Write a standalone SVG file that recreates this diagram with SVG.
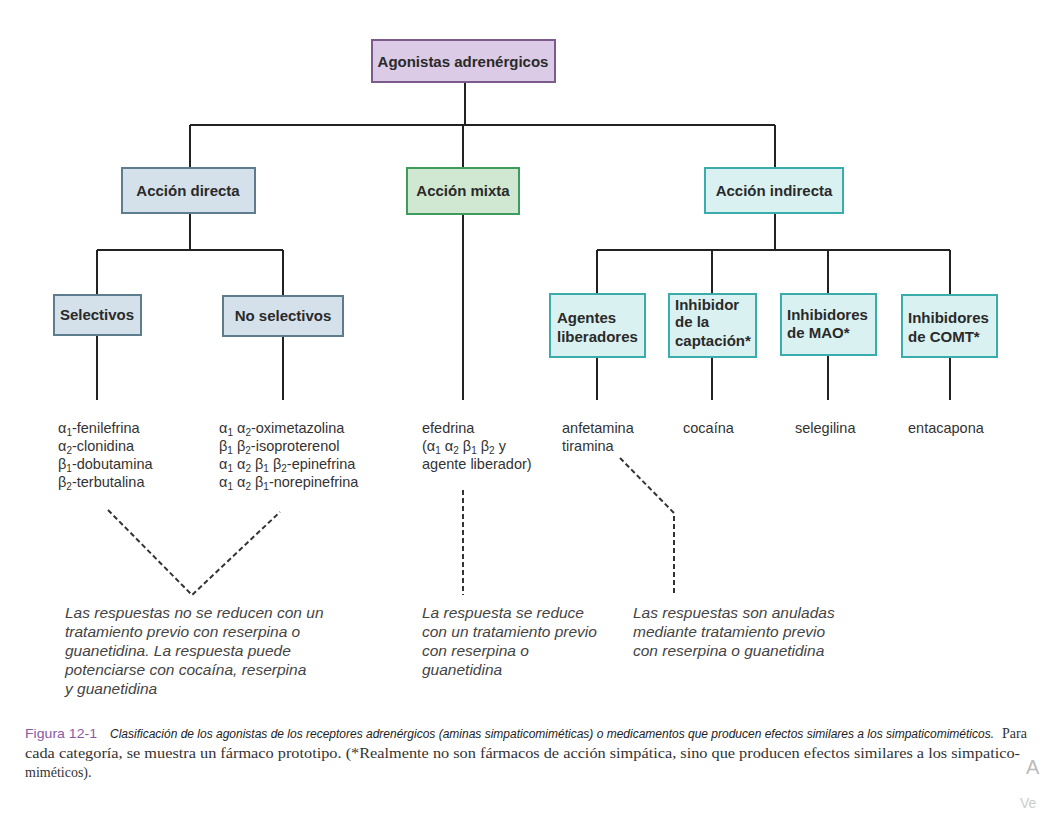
<svg xmlns="http://www.w3.org/2000/svg" width="1056" height="816" viewBox="0 0 1056 816">
<style>
.box{stroke-width:2}
.pur{fill:#dccbe6;stroke:#7b5b8c}
.blu{fill:#d4e1eb;stroke:#5d7d8e}
.grn{fill:#d0e8d2;stroke:#3d9c5c}
.cya{fill:#daf1f1;stroke:#3aacac}
.bt{font-family:"Liberation Sans",Arial,sans-serif;font-weight:bold;font-size:15px;fill:#2a2a2a}
.dt{font-family:"Liberation Sans",Arial,sans-serif;font-size:14.5px;fill:#333}
.it{font-family:"Liberation Sans",Arial,sans-serif;font-style:italic;font-size:15.5px;fill:#444}
.cap{font-family:"Liberation Serif","Times New Roman",serif;font-size:14px;fill:#333}
.s{font-size:10px}
.ln{stroke:#222;stroke-width:2;fill:none}
.dl{stroke:#333;stroke-width:2;fill:none;stroke-dasharray:5 3}
</style>
<rect width="1056" height="816" fill="#fff"/>
<g id="connectors">
<path class="ln" d="M465 82V125M190 125H775M190 125V168M463 125V168M775 125V168"/>
<path class="ln" d="M190 213V250M97 250H283M97 250V295M283 250V296"/>
<path class="ln" d="M97 335V400M283 336V400M463 214V400"/>
<path class="ln" d="M775 213V250M597 250H950M597 250V294M712 250V294M828 250V294M950 250V295"/>
<path class="ln" d="M597 357V400M712 357V400M828 355V400M950 357V400"/>
<path class="dl" d="M108 510L192 595L280 512"/>
<path class="dl" d="M463 490V595"/>
<path class="dl" d="M620 458L674 513V595"/>
</g>
<g id="n-agonistas"><rect class="box pur" x="372" y="40" width="183" height="42"/><text class="bt" x="463" y="67" text-anchor="middle" font-size="16.3">Agonistas adrenérgicos</text></g>
<g id="n-directa"><rect class="box blu" x="122" y="168" width="133" height="45"/><text class="bt" x="188" y="196" text-anchor="middle" font-size="16">Acción directa</text></g>
<g id="n-mixta"><rect class="box grn" x="407" y="168" width="112" height="46"/><text class="bt" x="463" y="196" text-anchor="middle" font-size="16">Acción mixta</text></g>
<g id="n-indirecta"><rect class="box cya" x="705" y="168" width="138" height="45"/><text class="bt" x="774" y="196" text-anchor="middle" font-size="16">Acción indirecta</text></g>
<g id="n-selectivos"><rect class="box blu" x="54" y="295" width="87" height="40"/><text class="bt" x="97" y="320" text-anchor="middle">Selectivos</text></g>
<g id="n-noselectivos"><rect class="box blu" x="223" y="296" width="120" height="40"/><text class="bt" x="283" y="321" text-anchor="middle">No selectivos</text></g>
<g id="n-liberadores"><rect class="box cya" x="550" y="294" width="95" height="63"/><text class="bt" x="557" y="323">Agentes</text><text class="bt" x="557" y="342">liberadores</text></g>
<g id="n-captacion"><rect class="box cya" x="669" y="294" width="87" height="63"/><text class="bt" x="675" y="310">Inhibidor</text><text class="bt" x="675" y="327">de la</text><text class="bt" x="675" y="346">captación*</text></g>
<g id="n-mao"><rect class="box cya" x="781" y="294" width="95" height="61"/><text class="bt" x="787" y="320">Inhibidores</text><text class="bt" x="787" y="338">de MAO*</text></g>
<g id="n-comt"><rect class="box cya" x="902" y="295" width="95" height="62"/><text class="bt" x="908" y="323">Inhibidores</text><text class="bt" x="908" y="342">de COMT*</text></g>
<g id="drugs">
<text class="dt" x="58" y="433">α<tspan class="s" dy="3">1</tspan><tspan dy="-3">-fenilefrina</tspan></text>
<text class="dt" x="58" y="451">α<tspan class="s" dy="3">2</tspan><tspan dy="-3">-clonidina</tspan></text>
<text class="dt" x="58" y="469">β<tspan class="s" dy="3">1</tspan><tspan dy="-3">-dobutamina</tspan></text>
<text class="dt" x="58" y="487">β<tspan class="s" dy="3">2</tspan><tspan dy="-3">-terbutalina</tspan></text>
<text class="dt" x="219" y="433">α<tspan class="s" dy="3">1</tspan><tspan dy="-3"> α</tspan><tspan class="s" dy="3">2</tspan><tspan dy="-3">-oximetazolina</tspan></text>
<text class="dt" x="219" y="451">β<tspan class="s" dy="3">1</tspan><tspan dy="-3"> β</tspan><tspan class="s" dy="3">2</tspan><tspan dy="-3">-isoproterenol</tspan></text>
<text class="dt" x="219" y="469">α<tspan class="s" dy="3">1</tspan><tspan dy="-3"> α</tspan><tspan class="s" dy="3">2</tspan><tspan dy="-3"> β</tspan><tspan class="s" dy="3">1</tspan><tspan dy="-3"> β</tspan><tspan class="s" dy="3">2</tspan><tspan dy="-3">-epinefrina</tspan></text>
<text class="dt" x="219" y="487">α<tspan class="s" dy="3">1</tspan><tspan dy="-3"> α</tspan><tspan class="s" dy="3">2</tspan><tspan dy="-3"> β</tspan><tspan class="s" dy="3">1</tspan><tspan dy="-3">-norepinefrina</tspan></text>
<text class="dt" x="422" y="433">efedrina</text>
<text class="dt" x="422" y="451">(α<tspan class="s" dy="3">1</tspan><tspan dy="-3"> α</tspan><tspan class="s" dy="3">2</tspan><tspan dy="-3"> β</tspan><tspan class="s" dy="3">1</tspan><tspan dy="-3"> β</tspan><tspan class="s" dy="3">2</tspan><tspan dy="-3"> y</tspan></text>
<text class="dt" x="422" y="469">agente liberador)</text>
<text class="dt" x="562" y="433">anfetamina</text>
<text class="dt" x="562" y="451">tiramina</text>
<text class="dt" x="683" y="433">cocaína</text>
<text class="dt" x="795" y="433">selegilina</text>
<text class="dt" x="908" y="433">entacapona</text>
</g>
<g id="notes">
<text class="it" x="65" y="618">Las respuestas no se reducen con un</text>
<text class="it" x="65" y="637">tratamiento previo con reserpina o</text>
<text class="it" x="65" y="656">guanetidina. La respuesta puede</text>
<text class="it" x="65" y="675">potenciarse con cocaína, reserpina</text>
<text class="it" x="65" y="694">y guanetidina</text>
<text class="it" x="422" y="618">La respuesta se reduce</text>
<text class="it" x="422" y="637">con un tratamiento previo</text>
<text class="it" x="422" y="656">con reserpina o</text>
<text class="it" x="422" y="675">guanetidina</text>
<text class="it" x="633" y="618">Las respuestas son anuladas</text>
<text class="it" x="633" y="637">mediante tratamiento previo</text>
<text class="it" x="633" y="656">con reserpina o guanetidina</text>
</g>
<g id="caption">
<text x="25" y="738" font-family="'Liberation Sans',Arial,sans-serif" font-size="13" fill="#8a5aa8" textLength="72" lengthAdjust="spacingAndGlyphs">Figura 12-1</text>
<text x="110" y="738" font-family="'Liberation Sans',Arial,sans-serif" font-style="italic" font-size="12" fill="#222" textLength="884" lengthAdjust="spacingAndGlyphs">Clasificación de los agonistas de los receptores adrenérgicos (aminas simpaticomiméticas) o medicamentos que producen efectos similares a los simpaticomiméticos.</text>
<text class="cap" x="1002" y="738">Para</text>
<text class="cap" x="25" y="758" textLength="995" lengthAdjust="spacingAndGlyphs">cada categoría, se muestra un fármaco prototipo. (*Realmente no son fármacos de acción simpática, sino que producen efectos similares a los simpatico-</text>
<text class="cap" x="25" y="777">miméticos).</text>
<text x="1026" y="774" font-family="'Liberation Sans',Arial,sans-serif" font-size="20" fill="#bbb">A</text>
<text x="1020" y="808" font-family="'Liberation Sans',Arial,sans-serif" font-size="14" fill="#ccc">Ve</text>
</g>
</svg>
